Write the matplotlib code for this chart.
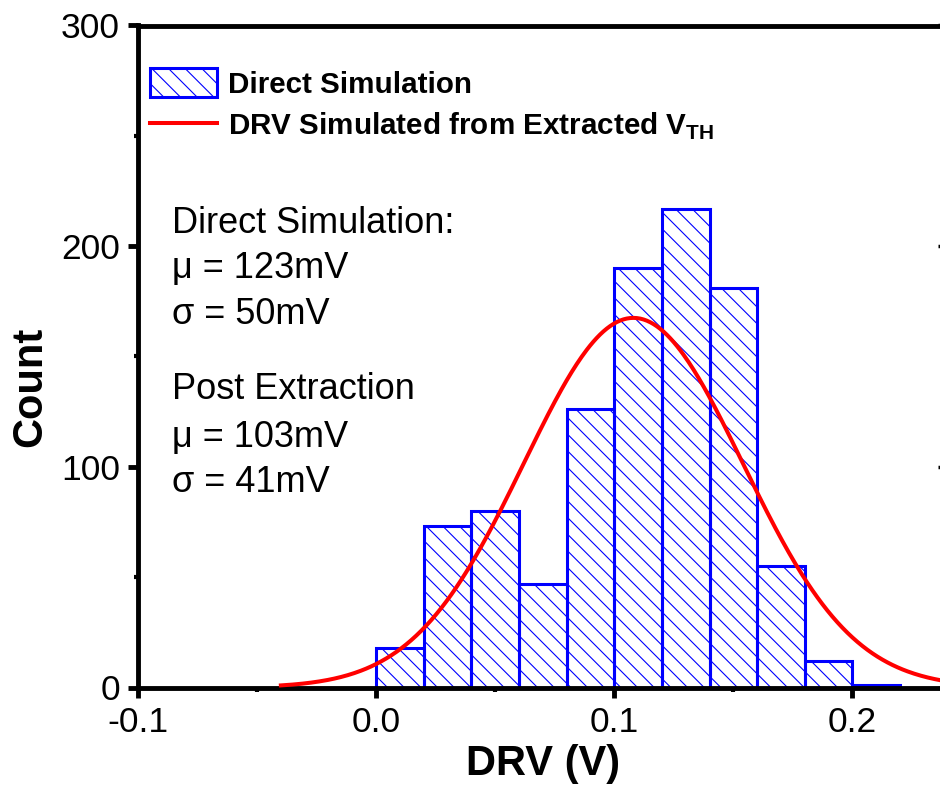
import numpy as np
import matplotlib
matplotlib.use("Agg")
import matplotlib.pyplot as plt
from matplotlib.ticker import MultipleLocator
from matplotlib.patches import Patch
from matplotlib.lines import Line2D

plt.rcParams['font.family'] = ['Liberation Sans', 'DejaVu Sans']
plt.rcParams['hatch.linewidth'] = 0.8

# DRV histogram, direct simulation (bin width 20 mV)
bin_edges = [0.00, 0.02, 0.04, 0.06, 0.08, 0.10, 0.12, 0.14, 0.16, 0.18, 0.20, 0.22]
counts = [18, 73, 80, 47, 126, 190, 217, 181, 55, 12, 1]

# gaussian curve of DRV simulated from extracted VTH
fit_mu = 0.108
fit_sigma = 0.046
fit_peak = 167.5
fit_range = (-0.04, 0.24)

stats_lines = ["Direct Simulation:", "\u03bc = 123mV", "\u03c3 = 50mV",
               "Post Extraction", "\u03bc = 103mV", "\u03c3 = 41mV"]
stats_baselines = [233, 278, 324, 399, 447, 492]  # pixel rows from the top

W, H = 940, 794
AX_L, AX_B, AX_W, AX_H = 138, 106.5, 809.7, 662
fig = plt.figure(figsize=(W / 100, H / 100), dpi=100)
ax = fig.add_axes([AX_L / W, AX_B / H, AX_W / W, AX_H / H])


def px_to_axes(x, y_top):
    return (x - AX_L) / AX_W, (H - AX_B - y_top) / AX_H


lefts = bin_edges[:-1]
widths = np.diff(bin_edges)
ax.bar(lefts, counts, width=widths, align='edge', facecolor='none',
       edgecolor='#0000ff', linewidth=2.2, hatch='\\\\', zorder=2)

xs = np.linspace(fit_range[0], fit_range[1], 400)
ys = fit_peak * np.exp(-(xs - fit_mu) ** 2 / (2 * fit_sigma ** 2))
ax.plot(xs, ys, color='#ff0000', linewidth=2.9, zorder=3)

ax.set_xlim(-0.1, 0.24)
ax.set_ylim(0, 300)
ax.set_xticks([-0.1, 0.0, 0.1, 0.2])
ax.set_xticklabels(["-0.1", "0.0", "0.1", "0.2"])
ax.xaxis.set_minor_locator(MultipleLocator(0.05))
ax.yaxis.set_major_locator(MultipleLocator(100))
ax.yaxis.set_minor_locator(MultipleLocator(50))

for s in ax.spines.values():
    s.set_linewidth(3.5)
ax.tick_params(which='major', direction='out', length=7, width=3.5,
               labelsize=25.5, pad=6)
ax.tick_params(which='minor', direction='out', length=3, width=3)

# inward ticks on the right frame
sec = ax.secondary_yaxis('right')
sec.yaxis.set_major_locator(MultipleLocator(100))
sec.yaxis.set_minor_locator(MultipleLocator(50))
sec.spines['right'].set_linewidth(3.5)
sec.tick_params(which='major', direction='in', length=7, width=2.5, labelright=False)
sec.tick_params(which='minor', direction='in', length=4, width=2)

ax.set_xlabel("DRV (V)", fontsize=30, fontweight='bold', labelpad=4)
ax.set_ylabel("Count", fontsize=30, fontweight='bold')
ax.yaxis.set_label_coords(*px_to_axes(50, 387))

handles = [Patch(facecolor='none', edgecolor='#0000ff', hatch='\\\\', linewidth=2.2),
           Line2D([], [], color='#ff0000', linewidth=2.9)]
labels = ["Direct Simulation", r"DRV Simulated from Extracted V$_{\mathregular{TH}}$"]
leg = ax.legend(handles, labels, loc='upper left', frameon=False,
                bbox_to_anchor=px_to_axes(150, 68),
                borderpad=0, borderaxespad=0, handlelength=2.26, handleheight=1.15,
                handletextpad=0.37, labelspacing=0.4,
                prop={'size': 21.3, 'weight': 'bold'})

for txt, yb in zip(stats_lines, stats_baselines):
    ax.text(*px_to_axes(172, yb), txt, transform=ax.transAxes,
            fontsize=26, va='baseline', ha='left')

fig.savefig("out.png", dpi=100)
